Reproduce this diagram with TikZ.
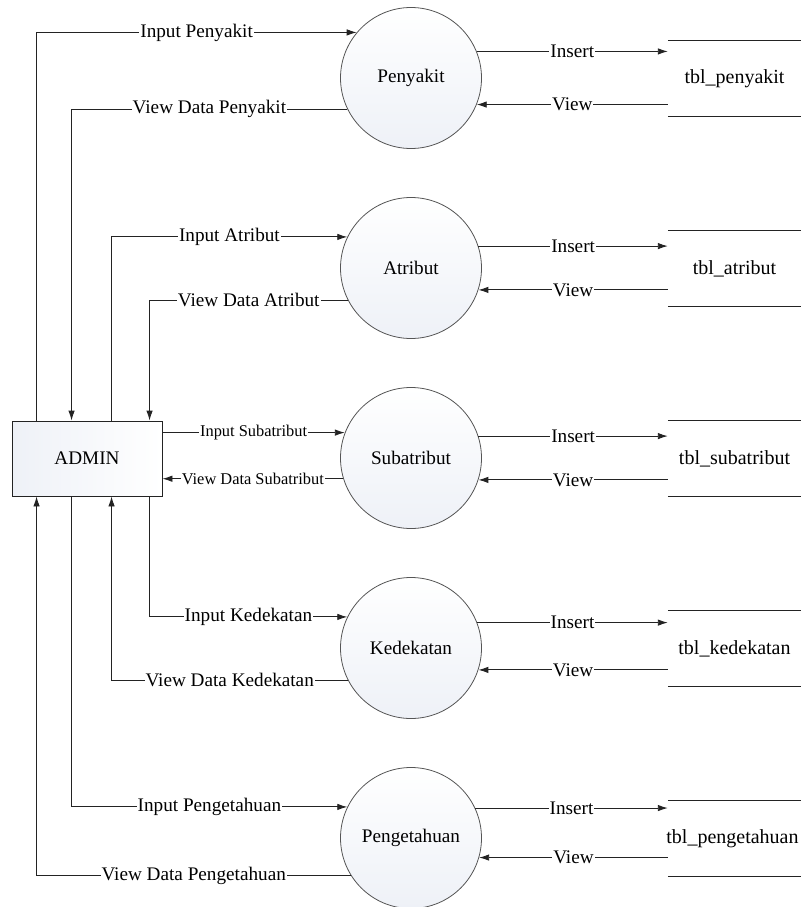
\documentclass[tikz,border=0pt]{standalone}
\usepackage{fontspec}
\setmainfont{Liberation Serif}
\usetikzlibrary{arrows.meta,calc}
\definecolor{cfill}{RGB}{238,241,247}
\definecolor{lc}{RGB}{35,35,35}
\definecolor{cc}{RGB}{85,85,85}
\begin{document}
\begin{tikzpicture}[x=1pt,y=-1pt,
  conn/.style={draw=lc, line width=0.9pt},
  arr/.style={conn, -{Latex[length=10pt,width=6.5pt]}},
  lbl/.style={fill=white, inner xsep=1pt, inner ysep=0pt, text=black, font=\fontsize{19.2}{22}\selectfont},
  slbl/.style={lbl, font=\fontsize{16.4}{19}\selectfont},
  proc/.style={circle, draw=cc, line width=0.8pt, minimum size=141pt, inner sep=0pt, top color=white, bottom color=cfill, text=black, font=\fontsize{19.2}{22}\selectfont},
  ent/.style={rectangle, draw=lc, line width=0.9pt, minimum width=150pt, minimum height=75pt, inner sep=0pt, left color=cfill, right color=white, text=black, font=\fontsize{19.2}{22}\selectfont},
  store/.style={rectangle, minimum width=133pt, minimum height=75pt, inner sep=0pt},
  tbl/.style={text=black, font=\fontsize{20}{23}\selectfont},
]
\useasboundingbox (0,0) rectangle (801,907);

% entity
\node[ent] (admin) at (87,458.5) {ADMIN};

% processes
\node[proc] (p1) at (411,78) {Penyakit};
\node[proc] (p2) at (411,268) {Atribut};
\node[proc] (p3) at (411,458) {Subatribut};
\node[proc] (p4) at (411,648) {Kedekatan};
\node[proc] (p5) at (411,838) {Pengetahuan};

% data stores
\node[store, label={[tbl]center:tbl\_penyakit}] (t1) at (734.5,78.5) {};
\node[store, label={[tbl]center:tbl\_atribut}] (t2) at (734.5,268.5) {};
\node[store, label={[tbl]center:tbl\_subatribut}] (t3) at (734.5,458.5) {};
\node[store, label={[tbl]center:tbl\_kedekatan}] (t4) at (734.5,648.5) {};
\node[store, label={[tbl,xshift=-2pt,inner xsep=0pt]center:tbl\_pengetahuan}] (t5) at (734.5,838.5) {};
\foreach \t in {t1,t2,t3,t4,t5}{
  \draw[conn] (\t.north west) -- (\t.north east);
  \draw[conn] (\t.south west) -- (\t.south east);
}

% process <-> store
\draw[arr] (p1.22) -- (p1.22 -| t1.west) node[lbl,midway]{Insert};
\draw[arr] (p1.338 -| t1.west) -- (p1.338) node[lbl,midway]{View};
\draw[arr] (p2.18) -- (p2.18 -| t2.west) node[lbl,midway]{Insert};
\draw[arr] (p2.342 -| t2.west) -- (p2.342) node[lbl,midway]{View};
\draw[arr] (p3.18) -- (p3.18 -| t3.west) node[lbl,midway]{Insert};
\draw[arr] (p3.342 -| t3.west) -- (p3.342) node[lbl,midway]{View};
\draw[arr] (p4.21) -- (p4.21 -| t4.west) node[lbl,midway]{Insert};
\draw[arr] (p4.342 -| t4.west) -- (p4.342) node[lbl,midway]{View};
\draw[arr] (p5.25) -- (p5.25 -| t5.west) node[lbl,midway]{Insert};
\draw[arr] (p5.344 -| t5.west) -- (p5.344) node[lbl,midway]{View};

% admin <-> processes
\draw[arr] ([xshift=25pt]admin.north west) |- (p1.140) node[lbl,pos=0.75]{Input Penyakit};
\draw[arr] (p1.206) -| ([xshift=60pt]admin.north west) node[lbl,pos=0.25]{View Data Penyakit};
\draw[arr] ([xshift=100pt]admin.north west) |- (p2.154) node[lbl,pos=0.75]{Input Atribut};
\draw[arr] (p2.207) -| ([xshift=138pt]admin.north west) node[lbl,pos=0.25]{View Data Atribut};
\draw[arr] (admin.east |- p3.159) -- (p3.159) node[slbl,midway]{Input Subatribut};
\draw[arr] (p3.197) -- (admin.east |- p3.197) node[slbl,midway]{View Data Subatribut};
\draw[arr] ([xshift=138pt]admin.south west) |- (p4.154) node[lbl,pos=0.75]{Input Kedekatan};
\draw[arr] (p4.207) -| ([xshift=100pt]admin.south west) node[lbl,pos=0.25]{View Data Kedekatan};
\draw[arr] ([xshift=60pt]admin.south west) |- (p5.154) node[lbl,pos=0.75]{Input Pengetahuan};
\draw[arr] (p5.212) -| ([xshift=25pt]admin.south west) node[lbl,pos=0.25]{View Data Pengetahuan};
\end{tikzpicture}
\end{document}
